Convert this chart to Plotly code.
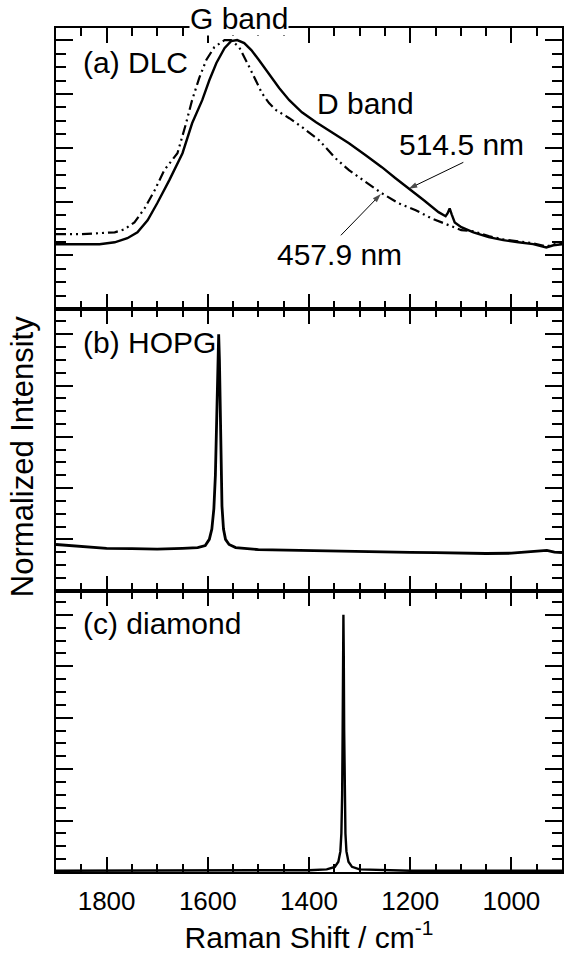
import plotly.graph_objects as go
from plotly.subplots import make_subplots

# ---------------- data ----------------
# (a) DLC, 514.5 nm excitation (solid)
dlc514_x = [1900, 1853, 1814, 1784, 1759, 1739, 1719, 1700, 1676, 1650, 1631, 1611, 1597, 1583,
            1567, 1554, 1542, 1528, 1514, 1499, 1479, 1459, 1439, 1414, 1386, 1355, 1321, 1288,
            1256, 1229, 1203, 1173, 1144, 1130, 1126, 1122, 1118, 1112, 1099, 1075, 1045, 1016,
            986, 957, 931, 917, 898]
dlc514_y = [0.242, 0.242, 0.242, 0.249, 0.264, 0.286, 0.331, 0.394, 0.480, 0.580, 0.691, 0.777,
            0.851, 0.915, 0.970, 0.996, 1.000, 0.989, 0.963, 0.926, 0.874, 0.822, 0.777, 0.732,
            0.695, 0.658, 0.617, 0.572, 0.528, 0.487, 0.450, 0.405, 0.361, 0.346, 0.357, 0.375,
            0.353, 0.323, 0.305, 0.286, 0.268, 0.257, 0.249, 0.242, 0.230, 0.238, 0.242]

# (a) DLC, 457.9 nm excitation (dash-dot)
dlc458_x = [1900, 1853, 1814, 1784, 1765, 1745, 1725, 1705, 1686, 1660, 1644, 1631, 1617, 1603,
            1587, 1567, 1554, 1538, 1518, 1506, 1493, 1479, 1465, 1439, 1414, 1380, 1347, 1321,
            1288, 1256, 1223, 1189, 1158, 1124, 1099, 1075, 1045, 1016, 986, 957, 931, 917, 898]
dlc458_y = [0.279, 0.279, 0.283, 0.286, 0.297, 0.323, 0.375, 0.442, 0.517, 0.580, 0.684, 0.777,
            0.859, 0.926, 0.974, 1.000, 1.000, 0.974, 0.900, 0.851, 0.803, 0.766, 0.740, 0.710,
            0.677, 0.628, 0.560, 0.517, 0.472, 0.431, 0.394, 0.368, 0.338, 0.312, 0.294, 0.290,
            0.272, 0.260, 0.252, 0.245, 0.234, 0.241, 0.245]

# (b) HOPG
hopg_x = [1900, 1850, 1800, 1750, 1700, 1650, 1620, 1605, 1597, 1592, 1588, 1585, 1583, 1581,
          1579.5, 1578.5, 1577, 1575.5, 1574, 1572, 1569, 1565, 1558, 1545, 1500, 1450, 1400,
          1350, 1300, 1250, 1200, 1150, 1100, 1050, 1000, 970, 945, 930, 915, 900]
hopg_y = [0.180, 0.172, 0.165, 0.164, 0.162, 0.165, 0.168, 0.176, 0.20, 0.24, 0.32, 0.45, 0.60,
          0.80, 0.95, 1.00, 0.90, 0.70, 0.50, 0.33, 0.24, 0.20, 0.180, 0.168, 0.160, 0.158, 0.155,
          0.153, 0.152, 0.150, 0.149, 0.148, 0.146, 0.145, 0.146, 0.150, 0.155, 0.157, 0.150, 0.148]

# (c) diamond
dia_x = [1900, 1700, 1500, 1400, 1365, 1349, 1342, 1338, 1336, 1334.5, 1333.5, 1332.7, 1332,
         1331.3, 1330.5, 1329.5, 1328, 1326, 1322, 1315, 1300, 1200, 1000, 900]
dia_y = [0.005, 0.005, 0.005, 0.007, 0.01, 0.02, 0.04, 0.08, 0.15, 0.30, 0.55, 0.85, 1.00,
         0.85, 0.55, 0.30, 0.15, 0.08, 0.04, 0.02, 0.01, 0.005, 0.005, 0.005]

x_ticks = [1800, 1600, 1400, 1200, 1000]
x_tick_labels = ["1800", "1600", "1400", "1200", "1000"]
y_tops = [1.045, 1.097, 1.094]

# pointer arrows (tail -> head) in panel (a) data units
arrow514_x = [1095, 1203]
arrow514_y = [0.546, 0.448]
arrow458_x = [1337, 1258]
arrow458_y = [0.275, 0.428]

FONT = "Liberation Sans, Arial, sans-serif"

fig = make_subplots(rows=3, cols=1, shared_xaxes=True, vertical_spacing=0)

fig.add_trace(go.Scatter(x=dlc458_x, y=dlc458_y, mode="lines", name="457.9 nm",
                         line=dict(color="black", width=2.2, dash="10px,4px,2px,4px,2px,4px")),
              row=1, col=1)
fig.add_trace(go.Scatter(x=dlc514_x, y=dlc514_y, mode="lines", name="514.5 nm",
                         line=dict(color="black", width=2.4)), row=1, col=1)
fig.add_trace(go.Scatter(x=hopg_x, y=hopg_y, mode="lines", name="HOPG",
                         line=dict(color="black", width=2.8)), row=2, col=1)
fig.add_trace(go.Scatter(x=dia_x, y=dia_y, mode="lines", name="diamond",
                         line=dict(color="black", width=2.4)), row=3, col=1)

for ax_x, ax_y in ((arrow514_x, arrow514_y), (arrow458_x, arrow458_y)):
    fig.add_trace(go.Scatter(x=ax_x, y=ax_y, mode="lines+markers", hoverinfo="skip",
                             line=dict(color="black", width=1),
                             marker=dict(symbol="arrow", size=[0, 9], angleref="previous",
                                         color="black", line=dict(width=0))),
                  row=1, col=1)

for r in (1, 2, 3):
    fig.update_xaxes(row=r, col=1, range=[1900, 900], showline=True, linecolor="black",
                     linewidth=2, mirror="ticks", ticks="inside", ticklen=15, tickwidth=2,
                     tickcolor="black", tickvals=x_ticks, ticktext=x_tick_labels,
                     showgrid=False, zeroline=False,
                     showticklabels=(r == 3),
                     minor=dict(dtick=50, tick0=0, ticks="inside", ticklen=8, tickwidth=2,
                                tickcolor="black", showgrid=False),
                     tickfont=dict(family=FONT, size=26, color="black"),
                     ticklabelstandoff=5)
    fig.update_yaxes(row=r, col=1, range=[0, y_tops[r - 1]], showline=True, linecolor="black",
                     linewidth=2, mirror="ticks", ticks="inside", ticklen=17, tickwidth=2,
                     tickcolor="black", dtick=0.2, tick0=0, showticklabels=False,
                     showgrid=False, zeroline=False,
                     minor=dict(dtick=0.05, tick0=0, ticks="inside", ticklen=10, tickwidth=2,
                                tickcolor="black", showgrid=False))

fig.update_xaxes(row=3, col=1,
                 title=dict(text="Raman Shift / cm<sup>-1</sup>", standoff=3,
                            font=dict(family=FONT, size=30, color="black")))

W0, W1, H0, H1 = 56, 564, 28, 872


def px(x):
    return (x - W0) / (W1 - W0)


def py(y):
    return (H1 - y) / (H1 - H0)


ann = []
txt = dict(family=FONT, size=30, color="black")


def label(text, x, y, xanchor="center", **kw):
    ann.append(dict(text=text, x=px(x), y=py(y), xref="paper", yref="paper",
                    xanchor=xanchor, yanchor="middle", showarrow=False, font=txt, **kw))


label("G band", 240, 18, bgcolor="white", borderpad=0)
label("(a) DLC", 81, 62, xanchor="left")
label("D band", 367, 103)
label("514.5 nm", 463, 144)
label("457.9 nm", 341, 254)
label("(b) HOPG", 81, 342, xanchor="left")
label("(c) diamond", 81, 623, xanchor="left")
ann.append(dict(text="Normalized Intensity", x=px(22), y=py(457), xref="paper", yref="paper",
                xanchor="center", yanchor="middle", textangle=-90, showarrow=False,
                font=dict(family=FONT, size=31, color="black")))

fig.update_layout(width=565, height=960, margin=dict(l=56, r=1, t=28, b=88),
                  paper_bgcolor="white", plot_bgcolor="white", showlegend=False,
                  annotations=ann, font=dict(family=FONT, color="black"))

fig.write_html("out.html")
